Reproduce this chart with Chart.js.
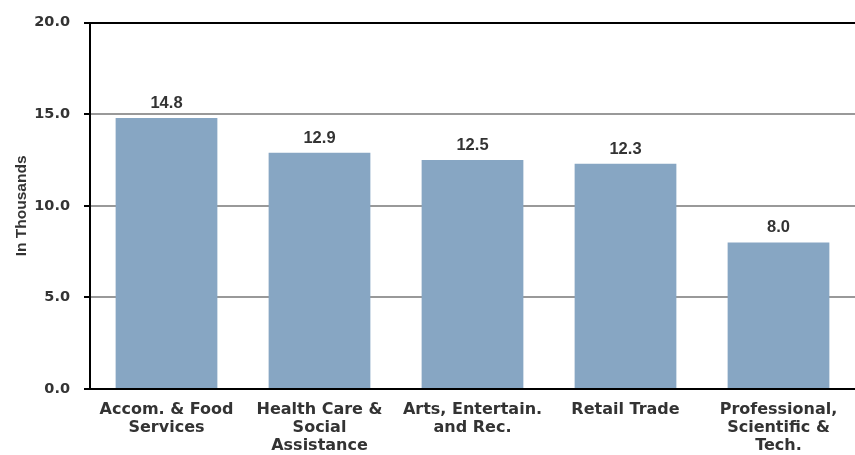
<!DOCTYPE html>
<html>
<head>
<meta charset="utf-8">
<script src="https://cdn.jsdelivr.net/npm/chart.js@4.4.0/dist/chart.umd.min.js"></script>
<style>
  html, body { margin: 0; padding: 0; background: #fff; }
  #wrap { width: 855px; height: 455px; }
</style>
</head>
<body>
<div id="wrap"><canvas id="chart"></canvas></div>
<script>
const categories = [
    ['Accom. & Food', 'Services'],
    ['Health Care &', 'Social', 'Assistance'],
    ['Arts, Entertain.', 'and Rec.'],
    ['Retail Trade'],
    ['Professional,', 'Scientific &', 'Tech.']
];
const values = [14.8, 12.9, 12.5, 12.3, 8.0];
const yTicks = [0, 5, 10, 15, 20];

const wideFont = '"DejaVu Sans", Verdana, sans-serif';
const narrowFont = '"Liberation Sans", Arial, sans-serif';

const barLabels = {
    id: 'barLabels',
    afterDatasetsDraw(chart) {
        const ctx = chart.ctx;
        const meta = chart.getDatasetMeta(0);
        ctx.save();
        ctx.font = 'bold 16.5px ' + narrowFont;
        ctx.fillStyle = '#333333';
        ctx.textAlign = 'center';
        ctx.textBaseline = 'alphabetic';
        meta.data.forEach((bar, i) => {
            ctx.fillText(values[i].toFixed(1), bar.x, bar.y - 10);
        });
        ctx.restore();
    }
};

const ctx = document.getElementById('chart').getContext('2d');
new Chart(ctx, {
    type: 'bar',
    data: {
        labels: categories,
        datasets: [{
            data: values,
            backgroundColor: '#87a6c3',
            borderWidth: 0,
            barPercentage: 0.665,
            categoryPercentage: 1
        }]
    },
    options: {
        responsive: true,
        maintainAspectRatio: false,
        animation: false,
        layout: { padding: { top: 19, right: 0, left: 0, bottom: 0 } },
        plugins: { legend: { display: false }, tooltip: { enabled: false } },
        scales: {
            x: {
                grid: { display: false, drawTicks: false },
                border: { display: true, color: '#000000', width: 2 },
                ticks: {
                    color: '#333333',
                    padding: 12,
                    maxRotation: 0,
                    autoSkip: false,
                    font: { family: wideFont, size: 16, weight: 'bold', lineHeight: '18px' }
                },
                afterFit(scale) { scale.height = 66; }
            },
            y: {
                min: 0,
                max: 20,
                afterBuildTicks(scale) { scale.ticks = yTicks.map(v => ({ value: v })); },
                grid: {
                    color: c => (c.tick && (c.tick.value === 20)) ? '#000000' : '#999999',
                    lineWidth: 2,
                    tickColor: '#000000',
                    tickLength: 6
                },
                border: { display: true, color: '#000000', width: 2 },
                ticks: {
                    color: '#333333',
                    padding: 14,
                    callback: v => v.toFixed(1),
                    font: { family: wideFont, size: 14.5, weight: 'bold' }
                },
                title: {
                    display: true,
                    text: 'In Thousands',
                    color: '#333333',
                    padding: { top: 12, bottom: 0 },
                    font: { family: narrowFont, size: 15.5, weight: 'bold' }
                },
                afterFit(scale) { scale.width = 90; }
            }
        }
    },
    plugins: [barLabels]
});
</script>
</body>
</html>
